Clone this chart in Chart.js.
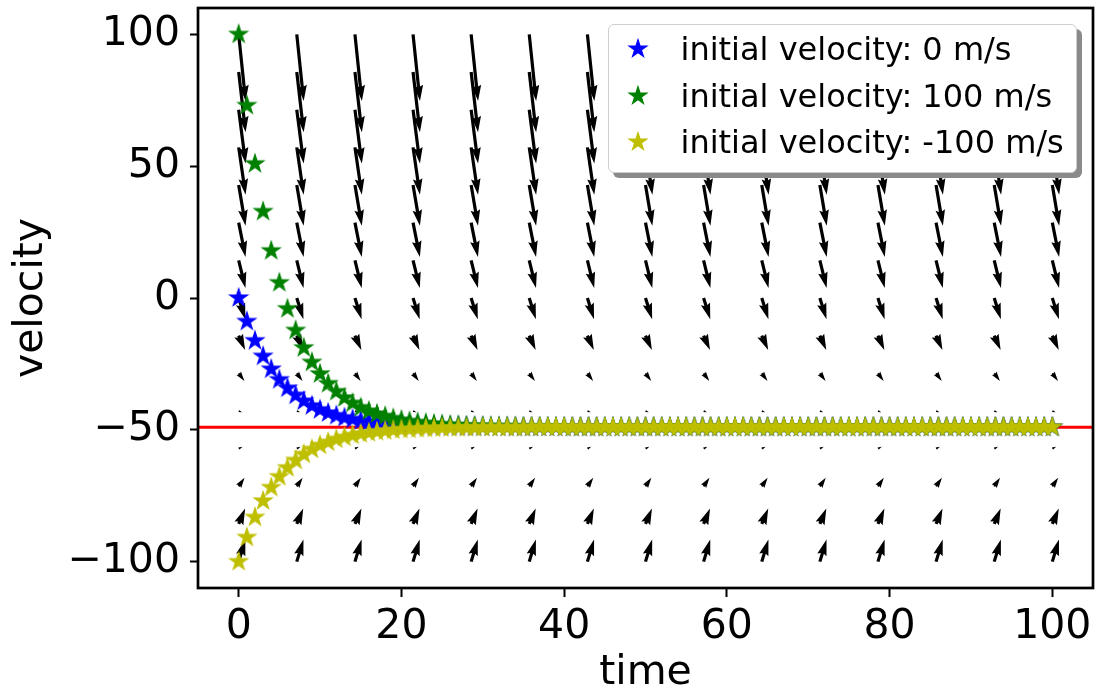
<!DOCTYPE html>
<html>
<head>
<meta charset="utf-8">
<script src="https://cdn.jsdelivr.net/npm/chart.js@4.4.0/dist/chart.umd.min.js"></script>
<style>
  body { margin: 0; background: #fff; }
  #wrap { position: relative; width: 1095px; height: 698px; }
  #legend {
    position: absolute; left: 608px; top: 24px; width: 467px; height: 147px;
    background: #fff; border: 1.5px solid #cfcfcf; border-radius: 6px;
    box-shadow: 5px 5px 0 #8a8a8a;
    font-family: 'DejaVu Sans'; font-size: 32px; color: #000;
  }
  .row { position: absolute; left: 0; width: 100%; height: 40px; line-height: 40px; white-space: nowrap; }
  .row canvas { position: absolute; left: 15.5px; top: 7px; }
  .row span { position: absolute; left: 71.5px; }
</style>
</head>
<body>
<div id="wrap">
  <canvas id="velocityChart" width="1095" height="698"></canvas>
  <div id="legend"></div>
</div>
<script>
// time steps of the solutions (s)
const times = [
    0,  1,  2,  3,  4,  5,  6,  7,  8,  9,
   10, 11, 12, 13, 14, 15, 16, 17, 18, 19,
   20, 21, 22, 23, 24, 25, 26, 27, 28, 29,
   30, 31, 32, 33, 34, 35, 36, 37, 38, 39,
   40, 41, 42, 43, 44, 45, 46, 47, 48, 49,
   50, 51, 52, 53, 54, 55, 56, 57, 58, 59,
   60, 61, 62, 63, 64, 65, 66, 67, 68, 69,
   70, 71, 72, 73, 74, 75, 76, 77, 78, 79,
   80, 81, 82, 83, 84, 85, 86, 87, 88, 89,
   90, 91, 92, 93, 94, 95, 96, 97, 98, 99,
  100
];

const velocityFrom0 = [
  0, -8.9, -16.2, -22.1, -27.0, -31.0, -34.2, -36.9, -39.1, -40.9,
  -42.4, -43.6, -44.6, -45.4, -46.0, -46.6, -47.0, -47.4, -47.7, -47.9,
  -48.1, -48.3, -48.4, -48.5, -48.6, -48.7, -48.7, -48.8, -48.8, -48.9,
  -48.9, -48.9, -48.9, -48.9, -49, -49, -49, -49, -49, -49,
  -49, -49, -49, -49, -49, -49, -49, -49, -49, -49,
  -49, -49, -49, -49, -49, -49, -49, -49, -49, -49,
  -49, -49, -49, -49, -49, -49, -49, -49, -49, -49,
  -49, -49, -49, -49, -49, -49, -49, -49, -49, -49,
  -49, -49, -49, -49, -49, -49, -49, -49, -49, -49,
  -49, -49, -49, -49, -49, -49, -49, -49, -49, -49,
  -49
];

const velocityFrom100 = [
  100, 73.0, 50.9, 32.8, 17.9, 5.8, -4.1, -12.3, -18.9, -24.4,
  -28.8, -32.5, -35.5, -37.9, -39.9, -41.6, -42.9, -44.0, -44.9, -45.7,
  -46.3, -46.8, -47.2, -47.5, -47.8, -48.0, -48.2, -48.3, -48.5, -48.6,
  -48.6, -48.7, -48.8, -48.8, -48.8, -48.9, -48.9, -48.9, -48.9, -48.9,
  -49, -49, -49, -49, -49, -49, -49, -49, -49, -49,
  -49, -49, -49, -49, -49, -49, -49, -49, -49, -49,
  -49, -49, -49, -49, -49, -49, -49, -49, -49, -49,
  -49, -49, -49, -49, -49, -49, -49, -49, -49, -49,
  -49, -49, -49, -49, -49, -49, -49, -49, -49, -49,
  -49, -49, -49, -49, -49, -49, -49, -49, -49, -49,
  -49
];

const velocityFromMinus100 = [
  -100, -90.8, -83.2, -77.0, -71.9, -67.8, -64.4, -61.6, -59.3, -57.4,
  -55.9, -54.7, -53.6, -52.8, -52.1, -51.5, -51.1, -50.7, -50.4, -50.1,
  -49.9, -49.8, -49.6, -49.5, -49.4, -49.3, -49.3, -49.2, -49.2, -49.2,
  -49.1, -49.1, -49.1, -49.1, -49.1, -49.1, -49, -49, -49, -49,
  -49, -49, -49, -49, -49, -49, -49, -49, -49, -49,
  -49, -49, -49, -49, -49, -49, -49, -49, -49, -49,
  -49, -49, -49, -49, -49, -49, -49, -49, -49, -49,
  -49, -49, -49, -49, -49, -49, -49, -49, -49, -49,
  -49, -49, -49, -49, -49, -49, -49, -49, -49, -49,
  -49, -49, -49, -49, -49, -49, -49, -49, -49, -49,
  -49
];

const seriesLabels = ['initial velocity: 0 m/s', 'initial velocity: 100 m/s', 'initial velocity: -100 m/s'];
const terminalVelocity = -49;

// axis limits
const timeLimits = [-5, 105];
const velocityLimits = [-110, 110];

// slope field grid (quiver)
const arrowTimes = [0, 7.14, 14.29, 21.43, 28.57, 35.71, 42.86, 50, 57.14, 64.29, 71.43, 78.57, 85.71, 92.86, 100];
const arrowVelocities = [-100, -85.71, -71.43, -57.14, -42.86, -28.57, -14.29, 0, 14.29, 28.57, 42.86, 57.14, 71.43, 85.71, 100];
// dv/dt
const arrowSlopes = [10.2, 7.34, 4.49, 1.63, -1.23, -4.09, -6.94, -9.8, -12.66, -15.51, -18.37, -21.23, -24.09, -26.94, -29.8];

const colors = ['#0000ff', '#008000', '#bfbf00'];

function makeStar(color) {
    const c = document.createElement('canvas');
    c.width = 26;
    c.height = 26;
    const g = c.getContext('2d');
    g.beginPath();
    for (let k = 0; k < 10; k++) {
        const r = k % 2 ? 3.6 : 9.3;
        const a = -Math.PI / 2 + k * Math.PI / 5;
        g.lineTo(13 + r * Math.cos(a), 13 + r * Math.sin(a));
    }
    g.closePath();
    g.fillStyle = color;
    g.fill();
    g.strokeStyle = color;
    g.lineWidth = 1.2;
    g.stroke();
    return c;
}

// arrow outline like matplotlib quiver, in shaft-width units
const SHAFT = 3.2;      // px
const ARROW_K = 2.25;   // px per unit of vector length
function arrowPolygon(len) {
    const hal = 4.5, hl = 5, hw = 3, minsh = 5;
    let xs, ys;
    if (len >= minsh) {
        xs = [0, len - hal, len - hl, len, len - hl, len - hal, 0];
        ys = [0.5, 0.5, hw / 2, 0, -hw / 2, -0.5, -0.5];
    } else {
        const s = len / minsh;
        xs = [0, minsh - hal, minsh - hl, minsh, minsh - hl, minsh - hal, 0].map(v => v * s);
        ys = [0.5, 0.5, hw / 2, 0, -hw / 2, -0.5, -0.5].map(v => v * s);
    }
    return xs.map((x, i) => [x, ys[i]]);
}

const quiverPlugin = {
    id: 'quiver',
    beforeDatasetsDraw(chart) {
        const {ctx, chartArea, scales: {x, y}} = chart;
        const sx = Math.abs(x.getPixelForValue(1) - x.getPixelForValue(0));
        const sy = Math.abs(y.getPixelForValue(1) - y.getPixelForValue(0));
        ctx.save();
        ctx.beginPath();
        ctx.rect(chartArea.left, chartArea.top, chartArea.right - chartArea.left, chartArea.bottom - chartArea.top);
        ctx.clip();
        ctx.fillStyle = '#000';
        arrowVelocities.forEach((v, j) => {
            const slope = arrowSlopes[j];
            let ux = sx, uy = -slope * sy;
            const n = Math.hypot(ux, uy);
            ux /= n; uy /= n;
            const len = ARROW_K * Math.hypot(1, slope) / SHAFT;
            const poly = arrowPolygon(len);
            arrowTimes.forEach(t => {
                const px = x.getPixelForValue(t);
                const py = y.getPixelForValue(v);
                ctx.beginPath();
                poly.forEach(([ax, ay], i) => {
                    const qx = px + SHAFT * (ax * ux - ay * uy);
                    const qy = py + SHAFT * (ax * uy + ay * ux);
                    if (i === 0) ctx.moveTo(qx, qy); else ctx.lineTo(qx, qy);
                });
                ctx.closePath();
                ctx.fill();
            });
        });
        ctx.restore();
    },
    afterDatasetsDraw(chart) {
        // full box frame
        const {ctx, chartArea} = chart;
        ctx.save();
        ctx.strokeStyle = '#000';
        ctx.lineWidth = 2.7;
        ctx.strokeRect(chartArea.left, chartArea.top, chartArea.right - chartArea.left, chartArea.bottom - chartArea.top);
        ctx.restore();
    }
};

Chart.defaults.font.family = "'DejaVu Sans'";
Chart.defaults.color = '#000';

const series = [velocityFrom0, velocityFrom100, velocityFromMinus100];
const stars = colors.map(makeStar);

const datasets = [{
    label: 'terminal velocity',
    data: timeLimits.map(t => ({x: t, y: terminalVelocity})),
    showLine: true,
    borderColor: '#ff0000',
    borderWidth: 3,
    pointRadius: 0,
    order: 4
}];
series.forEach((vals, i) => {
    datasets.push({
        label: seriesLabels[i],
        data: times.map((t, k) => ({x: t, y: vals[k]})),
        showLine: false,
        pointStyle: stars[i],
        pointRadius: 9,
        order: 3 - i
    });
});

function tickGrid(len) {
    return {
        display: true,
        drawOnChartArea: false,
        drawTicks: true,
        tickLength: len,
        tickWidth: 2,
        tickColor: '#000'
    };
}

new Chart(document.getElementById('velocityChart'), {
    type: 'scatter',
    data: {datasets: datasets},
    plugins: [quiverPlugin],
    options: {
        responsive: false,
        animation: false,
        events: [],
        layout: {autoPadding: false, padding: {top: 8, right: 2, left: 0, bottom: 0}},
        plugins: {legend: {display: false}, tooltip: {enabled: false}},
        scales: {
            x: {
                type: 'linear',
                min: timeLimits[0],
                max: timeLimits[1],
                border: {display: false},
                grid: tickGrid(9),
                ticks: {stepSize: 20, includeBounds: false, padding: 6, font: {size: 41}, maxRotation: 0},
                title: {display: true, text: 'time', font: {size: 41, lineHeight: 1.2}, padding: {top: 0, bottom: 0}},
                afterFit(scale) {
                    scale.height = 110;
                    scale.paddingLeft = 0;
                    scale.paddingRight = 0;
                }
            },
            y: {
                type: 'linear',
                min: velocityLimits[0],
                max: velocityLimits[1],
                border: {display: false},
                grid: tickGrid(8),
                ticks: {
                    stepSize: 50, includeBounds: false, padding: 10, font: {size: 41},
                    callback: v => v < 0 ? '\u2212' + Math.abs(v) : String(v)
                },
                title: {display: true, text: 'velocity', font: {size: 41, lineHeight: 1.2}, padding: {top: 7, bottom: 0}},
                afterFit(scale) {
                    scale.width = 198;
                    scale.paddingTop = 0;
                    scale.paddingBottom = 0;
                }
            }
        }
    }
});

// legend with shadow, sitting over the plot like the original
const legend = document.getElementById('legend');
seriesLabels.forEach((label, i) => {
    const row = document.createElement('div');
    row.className = 'row';
    row.style.top = (4 + i * 46.5) + 'px';
    row.appendChild(makeStar(colors[i]));
    const span = document.createElement('span');
    span.textContent = label;
    row.appendChild(span);
    legend.appendChild(row);
});
</script>
</body>
</html>
